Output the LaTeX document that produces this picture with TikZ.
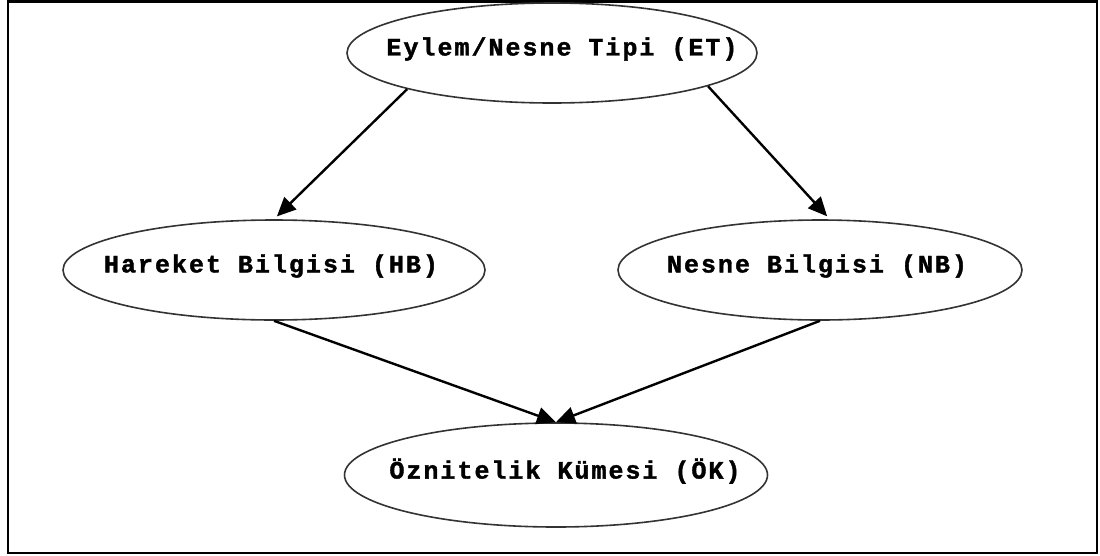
\documentclass[tikz,border=0pt]{standalone}
\usepackage{fontspec}
\newfontfamily\labelfont{Liberation Mono}[LetterSpace=8,FakeBold=1.5]
\usetikzlibrary{shapes.geometric,arrows.meta}
\begin{document}
\begin{tikzpicture}[x=1pt,y=-1pt,
  oval/.style={ellipse,draw=black!80,line width=1.6pt,inner sep=0pt},
  tag/.style={font=\labelfont\bfseries\fontsize{25}{25}\selectfont,inner sep=0pt,anchor=center},
  link/.style={line width=2.4pt,-{Triangle[length=19pt,width=17pt]}}]
  \useasboundingbox (0,0) rectangle (1100,555);
  \draw[line width=2.6pt] (8,1.5) rectangle (1097,553);

  % ellipses
  \node[oval,minimum width=410pt,minimum height=100pt] (ET) at (552,53) {};
  \node[oval,minimum width=422pt,minimum height=100pt] (HB) at (274,270) {};
  \node[oval,minimum width=404pt,minimum height=100pt] (NB) at (820,270) {};
  \node[oval,minimum width=423pt,minimum height=104pt] (OK) at (556,475) {};

  % labels
  \node[tag] (tET) at (562,49) {Eylem/Nesne Tipi (ET)};
  \node[tag] (tHB) at (271,266) {Hareket Bilgisi (HB)};
  \node[tag] (tNB) at (817,266) {Nesne Bilgisi (NB)};
  \node[tag] (tOK) at (565,471) {Öznitelik Kümesi (ÖK)};

  % connectors
  \draw[link,shorten >=4pt] (ET.194.5) -- (HB.north);
  \draw[link,shorten >=4pt] (ET.348.5) -- (NB.79);
  \draw[link] (HB.south) -- (OK.north);
  \draw[link] (NB.south) -- (OK.north);
\end{tikzpicture}
\end{document}
